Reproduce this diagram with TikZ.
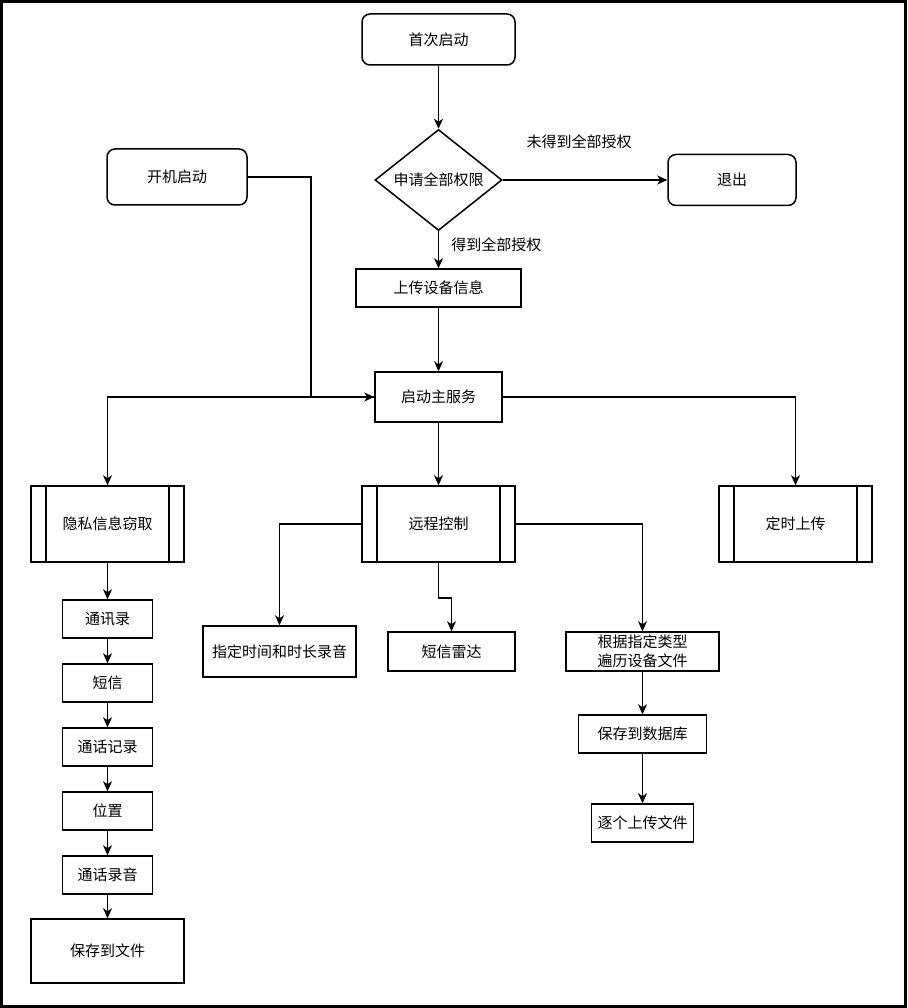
\documentclass[tikz,border=0pt]{standalone}
\usepackage{fontspec}
\setmainfont{Noto Sans CJK SC}
\usetikzlibrary{arrows.meta,positioning,shapes.geometric}

\begin{document}
\begin{tikzpicture}[
    x=1pt, y=-1pt,
    node distance=24.5pt,
    font=\fontsize{15}{19}\selectfont,
    box/.style={rectangle, draw=black, line width=1.5pt, minimum width=90pt,
        minimum height=38pt, align=center, inner sep=0pt},
    start/.style={box, rounded corners=8pt},
    choice/.style={diamond, draw=black, line width=1.5pt, aspect=1.26,
        minimum width=127pt, minimum height=101pt, inner sep=0pt},
    proc/.style={box, minimum width=153pt, minimum height=76pt,
        path picture={
            \draw[line width=1.5pt] ([xshift=15pt]path picture bounding box.north west)
                -- ([xshift=15pt]path picture bounding box.south west);
            \draw[line width=1.5pt] ([xshift=-15pt]path picture bounding box.north east)
                -- ([xshift=-15pt]path picture bounding box.south east);}},
    arrow/.style={-{Stealth[length=10pt, width=9pt, inset=3pt]}, line width=1.5pt},
    lbl/.style={inner sep=0pt}
]
\useasboundingbox (0,0) rectangle (907,1008);
\draw[line width=3pt, fill=white] (1.5,1.5) rectangle (905.5,1006.5);

% start and permission check
\node[start, minimum width=153pt, minimum height=51pt] (first) at (438.5,39.5) {首次启动};
\node[choice] (perm) at (438.5,180) {申请全部权限};
\node[start, minimum width=128pt, minimum height=51pt] (quit) at (732,180) {退出};
\node[start, minimum width=140pt, minimum height=56pt] (boot) at (177,177) {开机启动};
\node[box, minimum width=165pt] (upload) at (438.5,288) {上传设备信息};
\node[box, minimum width=127pt, minimum height=50pt] (main) at (438.5,397) {启动主服务};
\coordinate (join) at (311,397);

% services
\node[proc] (priv) at (107.5,524) {隐私信息窃取};
\node[proc] (remote) at (438.5,524) {远程控制};
\node[proc] (timer) at (795.5,524) {定时上传};

% stolen data chain
\node[box] (contacts) at (107.5,619) {通讯录};
\node[box, below=of contacts] (sms) {短信};
\node[box, below=of sms] (calllog) {通话记录};
\node[box, below=of calllog] (loc) {位置};
\node[box, below=of loc] (callrec) {通话录音};
\node[box, below=23.5pt of callrec, minimum width=153pt, minimum height=64pt] (savefile) {保存到文件};

% remote commands
\node[box, minimum width=153pt, minimum height=51pt] (rec) at (279.5,651.5) {指定时间和时长录音};
\node[box, minimum width=127pt, minimum height=39pt] (radar) at (451.5,651.5) {短信雷达};
\node[box, minimum width=153pt, minimum height=39pt] (trav) at (642.5,651.5) {根据指定类型\\遍历设备文件};
\node[box, minimum width=128pt] (db) at (642.5,734) {保存到数据库};
\node[box, minimum width=102pt] (upf) at (642.5,823) {逐个上传文件};

\draw[arrow] (first) -- (perm);
\draw[arrow] (perm) -- node[lbl, pos=0.464, above=30pt] {未得到全部授权} (quit);
\draw[arrow] (perm) -- node[lbl, pos=0.36, right=12pt] {得到全部授权} (upload);
\draw[arrow] (upload) -- (main);
\draw[arrow] (boot.east) -| (join) -- (main.west);
\draw[arrow] (main.west) -| (priv.north);
\draw[arrow] (main) -- (remote);
\draw[arrow] (main.east) -| (timer.north);
\draw[arrow] (priv) -- (contacts);
\draw[arrow] (contacts) -- (sms);
\draw[arrow] (sms) -- (calllog);
\draw[arrow] (calllog) -- (loc);
\draw[arrow] (loc) -- (callrec);
\draw[arrow] (callrec) -- (savefile);
\draw[arrow] (remote.west) -| (rec.north);
\draw[arrow] (remote.south) -- ++(0,35) -| (radar.north);
\draw[arrow] (remote.east) -| (trav.north);
\draw[arrow] (trav) -- (db);
\draw[arrow] (db) -- (upf);
\end{tikzpicture}
\end{document}
